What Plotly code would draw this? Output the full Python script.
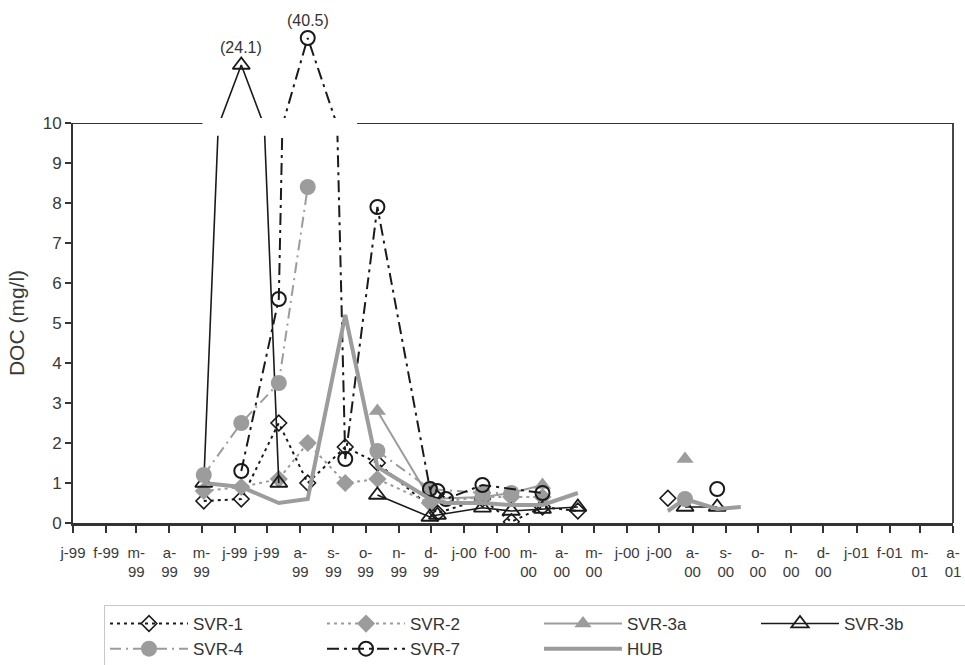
import plotly.graph_objects as go
import pandas as pd

# ---------------- data ----------------
tick_dates = [d.strftime("%Y-%m-%d") for d in pd.date_range("1999-01-01", "2001-04-01", freq="MS")]
tick_labels = ["j-99", "f-99", "m-<br>99", "a-<br>99", "m-<br>99", "j-99", "j-99", "a-<br>99",
               "s-<br>99", "o-<br>99", "n-<br>99", "d-<br>99", "j-00", "f-00", "m-<br>00",
               "a-<br>00", "m-<br>00", "j-00", "j-00", "a-<br>00", "s-<br>00", "o-<br>00",
               "n-<br>00", "d-<br>00", "j-01", "f-01", "m-<br>01", "a-<br>01"]

svr1_dates = ["1999-05-03", "1999-06-07", "1999-07-12", "1999-08-08", "1999-09-12", "1999-10-12",
              "1999-12-07", "2000-01-18", "2000-02-14", "2000-03-14", "2000-04-16", "2000-06-01",
              "2000-07-09"]
svr1_vals = [0.55, 0.6, 2.5, 1.0, 1.9, 1.5, 0.25, 0.6, 0.03, 0.4, 0.3, None, 0.62]

svr2_dates = ["1999-05-03", "1999-06-07", "1999-07-12", "1999-08-08", "1999-09-12", "1999-10-12",
              "1999-11-30", "2000-01-18", "2000-02-14", "2000-03-14"]
svr2_vals = [0.8, 0.9, 1.1, 2.0, 1.0, 1.1, 0.5, 0.65, 0.65, 0.65]

svr3a_dates = ["1999-10-12", "1999-11-30", "2000-01-18", "2000-02-14", "2000-03-14", "2000-06-01",
               "2000-07-25"]
svr3a_vals = [2.8, 0.6, 0.65, 0.75, 0.95, None, 1.6]

svr3b_dates = ["1999-05-03", "1999-06-07", "1999-07-12", "1999-08-08", "1999-10-12", "1999-11-30",
               "1999-12-07", "2000-01-18", "2000-02-14", "2000-03-14", "2000-04-16", "2000-06-01",
               "2000-07-25", "2000-08-24"]
svr3b_vals = [1.0, 24.1, 1.0, None, 0.7, 0.15, 0.2, 0.38, 0.3, 0.35, 0.4, None, 0.4, 0.4]

svr4_dates = ["1999-05-03", "1999-06-07", "1999-07-12", "1999-08-08", "1999-09-12", "1999-10-12",
              "1999-11-30", "2000-01-18", "2000-02-14", "2000-06-01", "2000-07-25"]
svr4_vals = [1.2, 2.5, 3.5, 8.4, None, 1.8, 0.85, 0.75, 0.75, None, 0.6]

svr7_dates = ["1999-06-07", "1999-07-12", "1999-08-08", "1999-09-12", "1999-10-12", "1999-11-30",
              "1999-12-07", "1999-12-15", "2000-01-18", "2000-03-14", "2000-06-01", "2000-08-24"]
svr7_vals = [1.3, 5.6, 40.5, 1.6, 7.9, 0.85, 0.8, 0.6, 0.95, 0.75, None, 0.85]

hub_dates = ["1999-05-03", "1999-06-07", "1999-07-12", "1999-08-08", "1999-09-12", "1999-10-12",
             "1999-11-30", "1999-12-15", "2000-01-18", "2000-02-14", "2000-03-14", "2000-04-16",
             "2000-06-01", "2000-07-09", "2000-07-25", "2000-08-24", "2000-09-15"]
hub_vals = [1.0, 0.9, 0.5, 0.6, 5.2, 1.4, 0.6, 0.5, 0.5, 0.45, 0.45, 0.75, None, 0.3, 0.6, 0.35, 0.4]

# ---------------- styles ----------------
BLACK = "#1a1a1a"
GRAY = "#9c9c9c"
FONT = "Liberation Sans, Arial, sans-serif"

fig = go.Figure()

def add(name, xs, ys, color, dash, width, symbol, msize, mline=0, yaxis="y", legend=True):
    fig.add_trace(go.Scatter(
        x=xs, y=ys, name=name, mode="lines+markers" if symbol else "lines",
        line=dict(color=color, width=width, dash=dash),
        marker=dict(symbol=symbol or "circle", size=msize, color=color,
                    line=dict(color=color, width=mline)),
        connectgaps=False, showlegend=legend, yaxis=yaxis, cliponaxis=True,
    ))

add("SVR-1", svr1_dates, svr1_vals, BLACK, "3px,4px", 2, "diamond-open", 12, 1.6)
add("SVR-2", svr2_dates, svr2_vals, GRAY, "3px,4px", 2, "diamond", 14)
add("SVR-3a", svr3a_dates, svr3a_vals, GRAY, "solid", 2, "triangle-up", 15)
add("SVR-3b", svr3b_dates, svr3b_vals, BLACK, "solid", 1.6, "triangle-up-open", 15, 1.8)
add("SVR-4", svr4_dates, svr4_vals, GRAY, "11px,5px,2px,5px", 2, "circle", 16)
add("SVR-7", svr7_dates, svr7_vals, BLACK, "12px,5px,3px,5px", 2, "circle-open", 14, 2)
add("HUB", hub_dates, hub_vals, GRAY, "solid", 4, None, 1)

# broken-axis upper panels for the two off-scale peaks
add("SVR-3b", svr3b_dates, svr3b_vals, BLACK, "solid", 1.6, "triangle-up-open", 15, 1.8, yaxis="y2", legend=False)
add("SVR-7", svr7_dates, svr7_vals, BLACK, "12px,5px,3px,5px", 2, "circle-open", 14, 2, yaxis="y3", legend=False)

# ---------------- layout ----------------
W, H = 965, 665
mt, mb, ml, mr = 10, 142, 73, 12
ph = H - mt - mb
low_top = 400 / ph
up_bot = 405 / ph

axis_col = "#333333"
fig.update_layout(
    width=W, height=H, margin=dict(l=ml, r=mr, t=mt, b=mb, autoexpand=False),
    paper_bgcolor="white", plot_bgcolor="white",
    font=dict(family=FONT, color="#333333", size=16),
    xaxis=dict(type="date", range=["1999-01-01", "2001-04-01"], tickvals=tick_dates,
               ticktext=tick_labels, ticks="outside", ticklen=7, tickwidth=1.5, tickcolor=axis_col,
               showline=True, linecolor=axis_col, linewidth=2.5, showgrid=False, zeroline=False,
               tickfont=dict(size=15, color="#3a3a3a"), ticklabelstandoff=7, anchor="y"),
    yaxis=dict(range=[0, 10], domain=[0, low_top], dtick=1, ticks="outside", ticklen=6,
               tickwidth=1.5, tickcolor=axis_col, showline=True, linecolor=axis_col, linewidth=1.8,
               showgrid=False, zeroline=False, tickfont=dict(size=17, color="#3a3a3a"),
               title=dict(text="DOC (mg/l)", font=dict(size=21, color="#3a3a3a"), standoff=12)),
    yaxis2=dict(range=[11.8, 36.86], domain=[up_bot, 1], visible=False, anchor="x"),
    yaxis3=dict(range=[12.5, 50.3], domain=[up_bot, 1], visible=False, overlaying="y2", anchor="x"),
    legend=dict(orientation="h", x=(104 - ml) / 880, xanchor="left", y=(523 - 605) / ph, yanchor="top",
                bordercolor="#c8c8c8", borderwidth=1, entrywidth=124, entrywidthmode="pixels",
                itemwidth=78, font=dict(size=17, color="#333333"), traceorder="normal",
                tracegroupgap=0),
    showlegend=True,
)

# plot frame: right border and broken top border
fig.add_shape(type="line", xref="paper", yref="y", x0=1, x1=1, y0=0, y1=10,
              line=dict(color=axis_col, width=1.8))
fig.add_shape(type="line", xref="x", yref="y", x0="1999-01-01", x1="1999-05-02", y0=10, y1=10,
              line=dict(color=axis_col, width=1.8))
fig.add_shape(type="line", xref="x", yref="y", x0="1999-09-23", x1="2001-04-01", y0=10, y1=10,
              line=dict(color=axis_col, width=1.8))
# white gap where the axis is broken
fig.add_shape(type="rect", xref="x", yref="y", x0="1999-05-02", x1="1999-09-23", y0=9.68, y1=10.2,
              fillcolor="white", line=dict(width=0), layer="above")

fig.add_annotation(x="1999-06-07", y=24.1, xref="x", yref="y2", text="(24.1)", showarrow=False,
                   yshift=17, font=dict(size=16, color="#333333"))
fig.add_annotation(x="1999-08-08", y=40.5, xref="x", yref="y3", text="(40.5)", showarrow=False,
                   yshift=18, font=dict(size=16, color="#333333"))

fig.write_html("out.html")
